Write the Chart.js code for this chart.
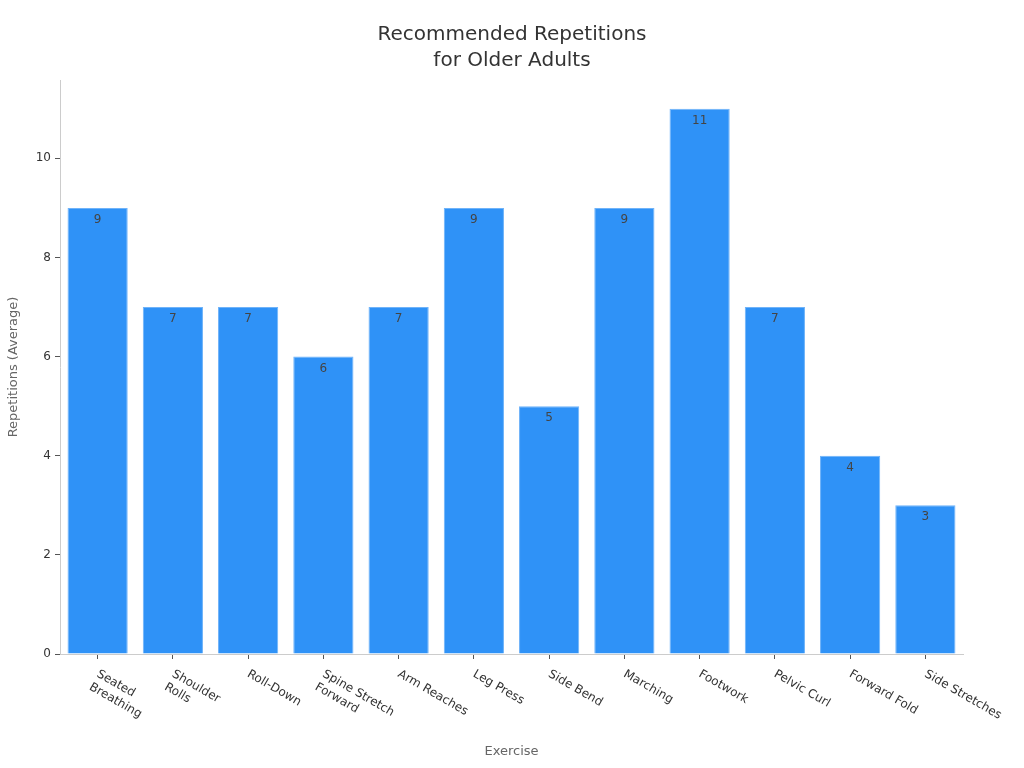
<!DOCTYPE html>
<html>
<head>
<meta charset="utf-8">
<script src="https://cdn.jsdelivr.net/npm/chart.js@4.4.1/dist/chart.umd.min.js"></script>
<style>
  html, body { margin: 0; padding: 0; background: #fff; }
  #wrap { width: 1024px; height: 768px; }
</style>
</head>
<body>
<div id="wrap"><canvas id="repChart" width="1024" height="768"></canvas></div>
<script>
// exercise names (multi-line where the original wraps)
const exercises = [
    ['Seated', 'Breathing'], ['Shoulder', 'Rolls'], ['Roll-Down'], ['Spine Stretch', 'Forward'],
    ['Arm Reaches'], ['Leg Press'], ['Side Bend'], ['Marching'], ['Footwork'],
    ['Pelvic Curl'], ['Forward Fold'], ['Side Stretches']
];
const repetitions = [9, 7, 7, 6, 7, 9, 5, 9, 11, 7, 4, 3];
const yTicks = [0, 2, 4, 6, 8, 10];

const FONT = "'DejaVu Sans', sans-serif";

// value text just inside the top of each bar
const valueLabels = {
    id: 'valueLabels',
    afterDatasetsDraw(chart) {
        const ctx = chart.ctx;
        const meta = chart.getDatasetMeta(0);
        ctx.save();
        ctx.font = '12px ' + FONT;
        ctx.fillStyle = '#444';
        ctx.textAlign = 'center';
        ctx.textBaseline = 'middle';
        meta.data.forEach((bar, i) => {
            ctx.fillText(String(repetitions[i]), bar.x, bar.y + 12);
        });
        ctx.restore();
    }
};

// x tick labels rotated clockwise, starting at the tick
const slantedTicks = {
    id: 'slantedTicks',
    afterDraw(chart) {
        const ctx = chart.ctx;
        const xs = chart.scales.x;
        ctx.save();
        ctx.font = '12px ' + FONT;
        ctx.fillStyle = '#333';
        ctx.textAlign = 'left';
        ctx.textBaseline = 'top';
        exercises.forEach((lines, i) => {
            const x = xs.getPixelForValue(i);
            ctx.save();
            ctx.translate(x + 3, xs.top + 14);
            ctx.rotate(30 * Math.PI / 180);
            lines.forEach((ln, j) => ctx.fillText(ln, 0, j * 15));
            ctx.restore();
        });
        ctx.restore();
    }
};

new Chart(document.getElementById('repChart'), {
    type: 'bar',
    data: {
        labels: exercises,
        datasets: [{
            data: repetitions,
            backgroundColor: '#2f92f7',
            borderColor: '#6fb3f9',
            borderWidth: 1,
            barPercentage: 0.8,
            categoryPercentage: 1.0
        }]
    },
    options: {
        responsive: false,
        animation: false,
        layout: { padding: 0 },
        plugins: {
            legend: { display: false },
            tooltip: { enabled: false },
            title: {
                display: true,
                text: ['Recommended Repetitions', 'for Older Adults'],
                color: '#333',
                font: { family: FONT, size: 20, weight: 'normal', lineHeight: 1.3 },
                padding: { top: 22, bottom: 6 }
            }
        },
        scales: {
            x: {
                ticks: { display: false },
                grid: { offset: false, drawOnChartArea: false, tickLength: 5, tickColor: '#555' },
                border: { color: '#ccc' },
                title: {
                    display: true, text: 'Exercise', color: '#666',
                    font: { family: FONT, size: 13 },
                    padding: { top: 0, bottom: 9 }
                },
                afterFit(s) { s.height = 114; }
            },
            y: {
                min: 0,
                max: 11.58,
                afterBuildTicks(s) { s.ticks = yTicks.map(v => ({ value: v })); },
                ticks: { color: '#333', font: { family: FONT, size: 12 }, padding: 4 },
                grid: { drawOnChartArea: false, tickLength: 5, tickColor: '#555' },
                border: { color: '#ccc' },
                title: {
                    display: true, text: 'Repetitions (Average)', color: '#666',
                    font: { family: FONT, size: 13 },
                    padding: { top: 6, bottom: 4 }
                },
                afterFit(s) { s.width = 60; }
            },
            // empty right-hand gutter so the title stays centred on the page
            gutter: {
                position: 'right',
                display: true,
                ticks: { display: false },
                grid: { display: false },
                border: { display: false },
                afterFit(s) { s.width = 61; }
            }
        }
    },
    plugins: [valueLabels, slantedTicks]
});
</script>
</body>
</html>
